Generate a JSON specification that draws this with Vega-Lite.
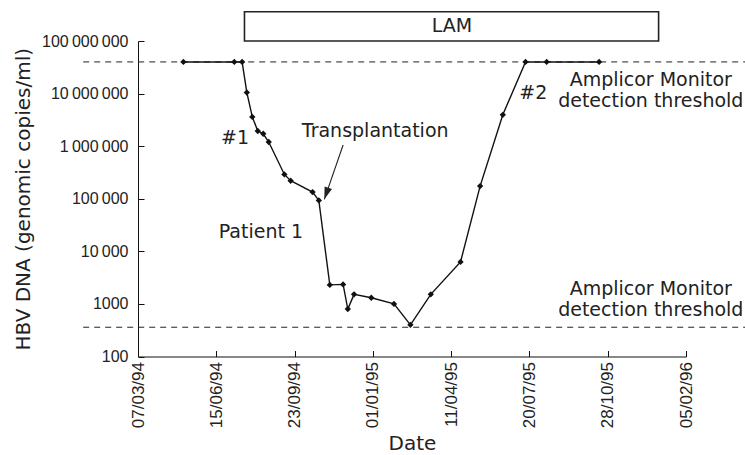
{
  "$schema": "https://vega.github.io/schema/vega-lite/v6.json",
  "autosize": "none",
  "width": 548,
  "height": 315.5,
  "padding": {"left": 138, "top": 41, "right": 59, "bottom": 98.5},
  "background": "white",
  "config": {
    "view": {"stroke": null},
    "axis": {"domainColor": "#111", "tickColor": "#111", "labelColor": "#222", "titleColor": "#222", "grid": false,
      "labelFont": "Liberation Sans", "labelFontSize": 16, "titleFont": "DejaVu Sans", "titleFontSize": 20, "titleFontWeight": "normal"}
  },
  "datasets": {
    "hbv": [
      {"date": "1994-05-04", "dna": 40000000},
      {"date": "1994-07-08", "dna": 40000000},
      {"date": "1994-07-18", "dna": 40000000},
      {"date": "1994-07-24", "dna": 10500000},
      {"date": "1994-07-31", "dna": 3600000},
      {"date": "1994-08-07", "dna": 1940000},
      {"date": "1994-08-14", "dna": 1720000},
      {"date": "1994-08-21", "dna": 1200000},
      {"date": "1994-09-10", "dna": 290000},
      {"date": "1994-09-18", "dna": 220000},
      {"date": "1994-10-16", "dna": 134000},
      {"date": "1994-10-24", "dna": 93000},
      {"date": "1994-11-07", "dna": 2300},
      {"date": "1994-11-24", "dna": 2350},
      {"date": "1994-11-30", "dna": 800},
      {"date": "1994-12-08", "dna": 1520},
      {"date": "1994-12-30", "dna": 1310},
      {"date": "1995-01-28", "dna": 1000},
      {"date": "1995-02-18", "dna": 400},
      {"date": "1995-03-16", "dna": 1520},
      {"date": "1995-04-23", "dna": 6300},
      {"date": "1995-05-18", "dna": 174000},
      {"date": "1995-06-16", "dna": 3950000},
      {"date": "1995-07-15", "dna": 40000000},
      {"date": "1995-08-11", "dna": 40000000},
      {"date": "1995-10-17", "dna": 40000000}
    ],
    "thresholds": [
      {"start": "1993-12-27", "end": "1996-04-22", "level": 40000000},
      {"start": "1993-12-27", "end": "1996-04-22", "level": 360}
    ],
    "lam": [
      {"start": "1994-07-21", "end": "1996-01-01", "low": 100000000, "high": 360000000, "mid": "1995-04-12", "midv": 190000000, "label": "LAM"}
    ],
    "notes": [
      {"date": "1994-07-09", "value": 1430000, "label": "#1"},
      {"date": "1995-01-04", "value": 1940000, "label": "Transplantation"},
      {"date": "1994-08-11", "value": 23600, "label": "Patient 1"},
      {"date": "1995-07-25", "value": 10100000, "label": "#2"},
      {"date": "1995-12-22", "value": 18100000, "label": "Amplicor Monitor"},
      {"date": "1995-12-22", "value": 7200000, "label": "detection threshold"},
      {"date": "1995-12-22", "value": 1919, "label": "Amplicor Monitor"},
      {"date": "1995-12-22", "value": 783, "label": "detection threshold"}
    ],
    "arrow": [
      {"from": "1994-11-24", "fromv": 1050000, "to": "1994-10-31", "tov": 97500}
    ]
  },
  "layer": [
    {
      "data": {"name": "thresholds"},
      "mark": {"type": "rule", "color": "#222", "strokeWidth": 1, "strokeDash": [6, 5]},
      "encoding": {
        "x": {"field": "start", "type": "temporal"},
        "x2": {"field": "end"},
        "y": {"field": "level", "type": "quantitative"}
      }
    },
    {
      "data": {"name": "hbv"},
      "mark": {"type": "line", "color": "#111", "strokeWidth": 1.4},
      "encoding": {
        "x": {
          "field": "date", "type": "temporal", "title": "Date",
          "scale": {"type": "utc", "nice": false,
            "domain": [{"year": 1994, "month": 3, "date": 7, "utc": true}, {"year": 1996, "month": 2, "date": 5, "utc": true}]},
          "axis": {
            "values": [
              {"year": 1994, "month": 3, "date": 7, "utc": true},
              {"year": 1994, "month": 6, "date": 15, "utc": true},
              {"year": 1994, "month": 9, "date": 23, "utc": true},
              {"year": 1995, "month": 1, "date": 1, "utc": true},
              {"year": 1995, "month": 4, "date": 11, "utc": true},
              {"year": 1995, "month": 7, "date": 20, "utc": true},
              {"year": 1995, "month": 10, "date": 28, "utc": true},
              {"year": 1996, "month": 2, "date": 5, "utc": true}
            ],
            "labelExpr": "utcFormat(datum.value, '%d/%m/%y')",
            "labelAngle": 270,
            "labelFontSize": 17,
            "tickSize": -6,
            "labelPadding": 11,
            "titlePadding": 6
          }
        },
        "y": {
          "field": "dna", "type": "quantitative", "title": "HBV DNA (genomic copies/ml)",
          "scale": {"type": "log", "domain": [100, 100000000], "nice": false},
          "axis": {
            "values": [100, 1000, 10000, 100000, 1000000, 10000000, 100000000],
            "labelExpr": "datum.value >= 10000 ? replace(format(datum.value, ','), regexp(',', 'g'), '\u2009') : format(datum.value, 'd')",
            "tickSize": -6,
            "labelPadding": 16,
            "titlePadding": 8
          }
        }
      }
    },
    {
      "data": {"name": "hbv"},
      "mark": {"type": "point", "shape": "diamond", "filled": true, "color": "#111", "size": 40, "opacity": 1},
      "encoding": {
        "x": {"field": "date", "type": "temporal"},
        "y": {"field": "dna", "type": "quantitative"}
      }
    },
    {
      "data": {"name": "lam"},
      "mark": {"type": "rect", "fill": "white", "stroke": "#222", "strokeWidth": 1.6},
      "encoding": {
        "x": {"field": "start", "type": "temporal"},
        "x2": {"field": "end"},
        "y": {"field": "low", "type": "quantitative"},
        "y2": {"field": "high"}
      }
    },
    {
      "data": {"name": "lam"},
      "mark": {"type": "text", "font": "DejaVu Sans", "fontSize": 19, "color": "#222", "align": "center", "baseline": "middle"},
      "encoding": {
        "x": {"field": "mid", "type": "temporal"},
        "y": {"field": "midv", "type": "quantitative"},
        "text": {"field": "label"}
      }
    },
    {
      "data": {"name": "notes"},
      "mark": {"type": "text", "font": "DejaVu Sans", "fontSize": 19, "color": "#222", "align": "center", "baseline": "middle"},
      "encoding": {
        "x": {"field": "date", "type": "temporal"},
        "y": {"field": "value", "type": "quantitative"},
        "text": {"field": "label"}
      }
    },
    {
      "data": {"name": "arrow"},
      "mark": {"type": "rule", "color": "#222", "strokeWidth": 1.1},
      "encoding": {
        "x": {"field": "from", "type": "temporal"},
        "y": {"field": "fromv", "type": "quantitative"},
        "x2": {"field": "to"},
        "y2": {"field": "tov"}
      }
    },
    {
      "data": {"name": "arrow"},
      "mark": {"type": "point", "shape": "M0,0L-0.32,-1L0.32,-1Z", "filled": true, "color": "#222", "size": 600, "angle": 19, "opacity": 1},
      "encoding": {
        "x": {"field": "to", "type": "temporal"},
        "y": {"field": "tov", "type": "quantitative"}
      }
    }
  ]
}
